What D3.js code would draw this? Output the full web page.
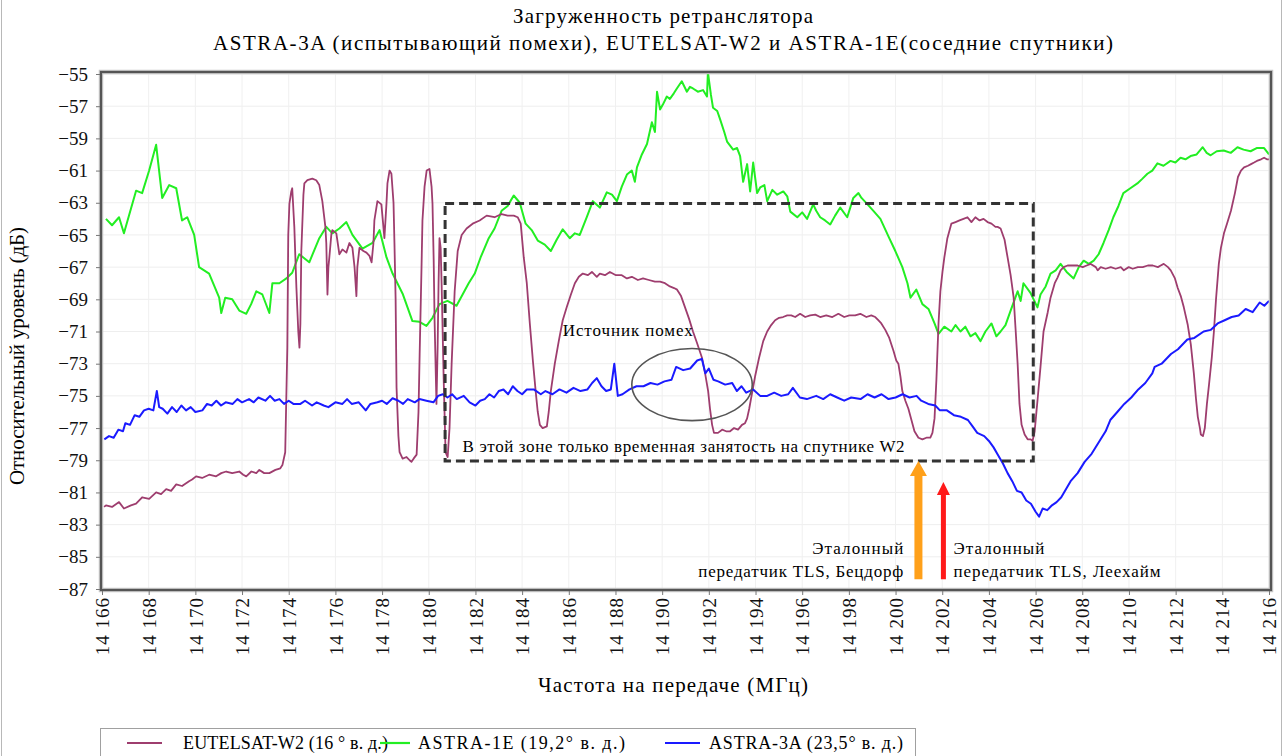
<!DOCTYPE html>
<html><head><meta charset="utf-8">
<script src="https://cdn.jsdelivr.net/npm/d3@7"></script>
<style>
body{margin:0;background:#fff}
svg{display:block}
</style>
</head><body>
<svg id="c" width="1284" height="756"></svg>
<script>
// ---------- data ----------
const titleLines = ["Загруженность ретранслятора",
  "ASTRA-3A (испытывающий помехи),  EUTELSAT-W2 и  ASTRA-1E(соседние спутники)"];
const xTitle = "Частота на передаче (МГц)";
const yTitle = "Относительный уровень (дБ)";
const xTicks = [14166,14168,14170,14172,14174,14176,14178,14180,14182,14184,14186,14188,14190,14192,14194,14196,14198,14200,14202,14204,14206,14208,14210,14212,14214,14216];
const yTicks = [-55,-57,-59,-61,-63,-65,-67,-69,-71,-73,-75,-77,-79,-81,-83,-85,-87];
const seriesNames = ["EUTELSAT-W2 (16 ° в. д.)","ASTRA-1E (19,2° в. д.)","ASTRA-3A (23,5° в. д.)"];
const seriesColors = ["#9e3d6e","#22ee22","#1a1aff"];

// EUTELSAT-W2 : [frequency MHz, level dB]
const w2 = [[14166.09,-81.9],[14166.17,-81.8],[14166.43,-81.9],[14166.73,-81.6],[14166.94,-82.0],[14167.24,-81.8],[14167.46,-81.7],[14167.72,-81.3],[14168.02,-81.4],[14168.32,-81.0],[14168.53,-81.1],[14168.75,-80.8],[14168.96,-80.9],[14169.18,-80.5],[14169.43,-80.6],[14169.73,-80.3],[14169.86,-80.2],[14170.03,-80.0],[14170.29,-80.1],[14170.59,-79.9],[14170.89,-80.0],[14171.11,-79.8],[14171.32,-79.7],[14171.58,-79.8],[14171.88,-79.7],[14172.05,-79.9],[14172.18,-80.0],[14172.40,-79.7],[14172.61,-79.8],[14172.74,-79.6],[14172.95,-79.8],[14173.17,-79.8],[14173.43,-79.6],[14173.64,-79.5],[14173.73,-79.3],[14173.85,-78.5],[14173.94,-72.0],[14173.98,-65.0],[14174.03,-63.05],[14174.11,-62.3],[14174.15,-62.1],[14174.24,-64.5],[14174.33,-68.3],[14174.41,-71.0],[14174.46,-72.0],[14174.50,-70.5],[14174.54,-66.0],[14174.63,-62.5],[14174.67,-61.8],[14174.80,-61.6],[14175.01,-61.5],[14175.18,-61.6],[14175.31,-61.9],[14175.44,-62.9],[14175.57,-64.5],[14175.61,-65.5],[14175.66,-68.7],[14175.70,-67.0],[14175.74,-66.4],[14175.83,-64.9],[14175.87,-64.7],[14176.04,-64.9],[14176.17,-66.2],[14176.30,-65.9],[14176.47,-66.1],[14176.60,-65.5],[14176.73,-65.8],[14176.82,-67.0],[14176.90,-68.8],[14176.94,-67.0],[14177.03,-65.8],[14177.20,-66.0],[14177.33,-66.1],[14177.46,-66.3],[14177.55,-66.7],[14177.63,-65.5],[14177.67,-64.1],[14177.80,-62.9],[14177.97,-63.1],[14178.10,-65.2],[14178.19,-63.0],[14178.23,-61.8],[14178.32,-61.0],[14178.40,-61.2],[14178.49,-63.0],[14178.53,-65.5],[14178.58,-69.0],[14178.62,-74.5],[14178.70,-77.5],[14178.75,-78.5],[14178.88,-78.9],[14179.05,-78.8],[14179.18,-79.0],[14179.26,-79.1],[14179.35,-78.9],[14179.48,-78.65],[14179.56,-76.0],[14179.61,-72.4],[14179.69,-67.0],[14179.73,-64.1],[14179.82,-62.0],[14179.91,-61.0],[14180.03,-60.9],[14180.12,-62.0],[14180.16,-63.05],[14180.21,-66.5],[14180.25,-70.35],[14180.33,-75.5],[14180.38,-72.0],[14180.42,-68.0],[14180.46,-65.2],[14180.51,-65.8],[14180.55,-68.0],[14180.64,-74.0],[14180.72,-78.5],[14180.81,-78.8],[14180.89,-77.0],[14180.98,-73.0],[14181.11,-68.5],[14181.24,-66.0],[14181.41,-65.0],[14181.62,-64.6],[14181.88,-64.3],[14182.18,-64.1],[14182.48,-63.8],[14182.82,-63.9],[14183.12,-63.7],[14183.38,-63.8],[14183.64,-63.8],[14183.81,-63.9],[14183.94,-64.3],[14184.07,-66.4],[14184.20,-68.0],[14184.33,-70.5],[14184.46,-72.8],[14184.58,-74.7],[14184.67,-76.0],[14184.76,-76.8],[14184.88,-77.0],[14185.06,-76.9],[14185.14,-76.0],[14185.23,-74.7],[14185.40,-73.0],[14185.57,-71.6],[14185.74,-70.3],[14185.91,-69.5],[14186.09,-68.7],[14186.26,-68.0],[14186.43,-67.6],[14186.60,-67.4],[14186.82,-67.5],[14186.99,-67.3],[14187.20,-67.6],[14187.33,-67.4],[14187.55,-67.5],[14187.76,-67.3],[14188.02,-67.5],[14188.27,-67.5],[14188.49,-67.7],[14188.70,-67.6],[14188.96,-67.8],[14189.18,-67.7],[14189.43,-67.8],[14189.69,-67.9],[14189.91,-67.9],[14190.12,-68.0],[14190.33,-68.2],[14190.51,-68.3],[14190.64,-68.4],[14190.81,-68.8],[14190.98,-69.5],[14191.15,-70.2],[14191.32,-71.0],[14191.49,-71.7],[14191.71,-72.65],[14191.84,-73.6],[14191.97,-74.7],[14192.05,-75.8],[14192.14,-76.8],[14192.22,-77.3],[14192.39,-77.3],[14192.57,-77.1],[14192.74,-77.2],[14192.91,-77.2],[14193.08,-77.0],[14193.25,-77.1],[14193.42,-76.8],[14193.55,-76.7],[14193.64,-76.4],[14193.73,-75.8],[14193.81,-75.15],[14193.98,-73.8],[14194.15,-72.65],[14194.33,-71.6],[14194.50,-71.0],[14194.67,-70.6],[14194.84,-70.3],[14195.01,-70.15],[14195.18,-70.1],[14195.36,-70.0],[14195.53,-70.0],[14195.70,-70.1],[14195.91,-69.9],[14196.13,-70.1],[14196.34,-70.0],[14196.56,-69.95],[14196.77,-70.1],[14197.03,-70.0],[14197.29,-70.1],[14197.55,-69.9],[14197.80,-70.1],[14198.02,-70.0],[14198.27,-70.0],[14198.49,-69.9],[14198.75,-70.1],[14198.96,-70.0],[14199.13,-70.1],[14199.26,-70.3],[14199.39,-70.5],[14199.56,-70.9],[14199.73,-71.4],[14199.91,-72.2],[14200.03,-72.8],[14200.12,-73.0],[14200.21,-73.8],[14200.29,-74.7],[14200.42,-75.3],[14200.55,-75.8],[14200.68,-76.5],[14200.81,-77.2],[14200.98,-77.6],[14201.15,-77.7],[14201.32,-77.6],[14201.49,-77.6],[14201.58,-77.3],[14201.67,-76.4],[14201.75,-74.0],[14201.84,-70.5],[14201.92,-68.5],[14202.01,-67.3],[14202.09,-66.4],[14202.22,-65.2],[14202.39,-64.3],[14202.57,-64.2],[14202.74,-64.1],[14202.91,-64.0],[14203.08,-63.9],[14203.25,-64.2],[14203.42,-63.9],[14203.60,-64.1],[14203.77,-64.0],[14203.94,-64.2],[14204.11,-64.3],[14204.28,-64.5],[14204.37,-64.5],[14204.50,-64.6],[14204.67,-65.3],[14204.80,-66.4],[14204.93,-67.5],[14205.06,-68.9],[14205.14,-70.8],[14205.23,-73.0],[14205.31,-75.5],[14205.40,-76.8],[14205.53,-77.4],[14205.66,-77.7],[14205.79,-77.7],[14205.87,-77.8],[14205.96,-77.2],[14206.09,-75.15],[14206.21,-73.2],[14206.34,-71.0],[14206.52,-69.8],[14206.64,-68.9],[14206.82,-68.0],[14206.94,-67.65],[14207.07,-67.2],[14207.20,-67.0],[14207.37,-66.9],[14207.59,-66.9],[14207.80,-66.9],[14208.02,-67.0],[14208.19,-66.9],[14208.36,-66.8],[14208.58,-67.0],[14208.66,-67.2],[14208.79,-67.0],[14209.00,-67.1],[14209.22,-67.0],[14209.43,-67.1],[14209.65,-67.0],[14209.78,-67.2],[14209.99,-67.0],[14210.16,-67.1],[14210.38,-67.0],[14210.59,-67.0],[14210.81,-66.9],[14211.02,-66.9],[14211.24,-67.0],[14211.36,-66.9],[14211.49,-66.8],[14211.67,-67.0],[14211.79,-67.2],[14211.97,-67.7],[14212.09,-68.3],[14212.22,-68.8],[14212.35,-69.5],[14212.52,-70.6],[14212.65,-71.8],[14212.78,-73.6],[14212.87,-75.15],[14212.95,-76.3],[14213.04,-77.0],[14213.08,-77.4],[14213.17,-77.5],[14213.25,-77.0],[14213.34,-75.5],[14213.43,-74.3],[14213.55,-72.6],[14213.64,-71.0],[14213.73,-69.0],[14213.85,-66.8],[14213.94,-65.8],[14214.07,-64.9],[14214.20,-64.3],[14214.37,-63.5],[14214.54,-62.4],[14214.67,-61.4],[14214.80,-61.0],[14214.93,-60.8],[14215.10,-60.7],[14215.23,-60.6],[14215.36,-60.5],[14215.48,-60.4],[14215.66,-60.3],[14215.79,-60.2],[14215.91,-60.3],[14216.0,-60.3]];

// ASTRA-1E : [frequency MHz, level dB]
const e1 = [[14166.17,-64.0],[14166.43,-64.4],[14166.73,-63.9],[14166.94,-64.9],[14167.46,-62.25],[14167.72,-62.4],[14168.02,-61.0],[14168.32,-59.4],[14168.58,-62.7],[14168.88,-61.9],[14169.18,-62.1],[14169.43,-64.1],[14169.65,-63.9],[14169.95,-65.0],[14170.16,-67.0],[14170.59,-67.4],[14171.02,-68.9],[14171.11,-69.85],[14171.28,-68.9],[14171.58,-69.0],[14171.88,-69.7],[14172.18,-69.9],[14172.39,-69.3],[14172.61,-68.5],[14172.87,-68.7],[14173.17,-69.85],[14173.30,-68.0],[14173.60,-68.0],[14173.90,-67.7],[14174.15,-67.35],[14174.45,-66.2],[14174.88,-66.7],[14175.31,-65.2],[14175.61,-64.5],[14175.87,-64.9],[14176.17,-64.6],[14176.47,-64.2],[14176.73,-65.0],[14177.16,-65.85],[14177.59,-65.5],[14177.89,-64.7],[14178.19,-66.4],[14178.45,-67.4],[14178.88,-68.65],[14179.30,-70.35],[14179.60,-70.4],[14179.90,-70.65],[14180.16,-70.15],[14180.46,-69.3],[14180.80,-69.1],[14181.19,-69.4],[14181.45,-68.7],[14181.71,-68.0],[14181.97,-67.4],[14182.22,-66.4],[14182.57,-65.2],[14182.82,-64.6],[14183.12,-63.5],[14183.38,-63.2],[14183.64,-62.55],[14183.90,-63.0],[14184.15,-64.3],[14184.41,-64.7],[14184.67,-65.35],[14184.97,-65.6],[14185.23,-66.0],[14185.48,-65.3],[14185.74,-64.65],[14186.04,-65.2],[14186.26,-64.9],[14186.47,-65.0],[14186.77,-63.9],[14187.03,-62.9],[14187.33,-63.3],[14187.63,-62.35],[14187.85,-62.5],[14188.06,-62.9],[14188.27,-62.0],[14188.49,-61.25],[14188.70,-61.0],[14188.83,-61.7],[14188.92,-60.8],[14189.13,-60.0],[14189.35,-59.35],[14189.56,-58.0],[14189.69,-58.6],[14189.78,-56.1],[14189.91,-57.2],[14190.03,-56.9],[14190.20,-56.4],[14190.33,-56.55],[14190.50,-56.2],[14190.63,-55.9],[14190.84,-55.45],[14191.06,-56.1],[14191.19,-55.8],[14191.32,-55.9],[14191.53,-56.1],[14191.75,-56.0],[14191.92,-56.4],[14191.96,-54.9],[14192.09,-56.3],[14192.18,-57.1],[14192.36,-57.3],[14192.48,-57.8],[14192.66,-58.6],[14192.78,-59.2],[14193.04,-59.7],[14193.21,-59.6],[14193.34,-60.1],[14193.47,-61.7],[14193.64,-60.6],[14193.77,-62.3],[14193.90,-60.5],[14194.07,-62.4],[14194.20,-62.05],[14194.38,-61.9],[14194.50,-62.9],[14194.72,-62.2],[14194.93,-62.5],[14195.19,-62.3],[14195.36,-62.6],[14195.49,-63.55],[14195.79,-63.9],[14196.00,-63.6],[14196.21,-64.0],[14196.47,-63.1],[14196.60,-63.5],[14196.77,-63.9],[14196.98,-64.1],[14197.20,-64.35],[14197.41,-63.8],[14197.63,-63.3],[14197.93,-63.9],[14198.19,-62.7],[14198.41,-62.4],[14198.54,-62.7],[14198.80,-63.1],[14199.05,-63.5],[14199.35,-64.0],[14199.73,-65.2],[14199.99,-66.0],[14200.29,-67.0],[14200.51,-68.0],[14200.64,-68.9],[14200.89,-68.4],[14201.15,-69.3],[14201.41,-69.6],[14201.67,-70.5],[14201.84,-71.15],[14202.09,-70.7],[14202.39,-71.0],[14202.57,-70.6],[14202.78,-71.0],[14202.99,-70.7],[14203.21,-71.3],[14203.42,-71.1],[14203.64,-71.6],[14203.85,-71.0],[14204.11,-70.5],[14204.32,-71.3],[14204.50,-71.0],[14204.71,-70.6],[14204.93,-69.7],[14205.23,-68.5],[14205.36,-69.1],[14205.48,-68.0],[14205.78,-68.6],[14206.08,-69.5],[14206.21,-68.7],[14206.43,-68.2],[14206.64,-67.4],[14206.86,-67.2],[14207.07,-66.8],[14207.33,-67.3],[14207.63,-67.7],[14207.85,-67.0],[14208.06,-66.6],[14208.28,-66.8],[14208.49,-66.6],[14208.70,-66.2],[14208.91,-65.5],[14209.13,-64.7],[14209.33,-63.9],[14209.55,-63.2],[14209.76,-62.4],[14210.06,-62.1],[14210.36,-61.8],[14210.58,-61.5],[14210.79,-61.2],[14211.00,-61.0],[14211.22,-60.55],[14211.48,-60.7],[14211.78,-60.4],[14211.99,-60.5],[14212.21,-60.2],[14212.42,-60.3],[14212.64,-60.1],[14212.90,-60.0],[14213.16,-59.55],[14213.33,-59.9],[14213.50,-60.05],[14213.76,-59.8],[14214.06,-59.75],[14214.36,-59.9],[14214.65,-59.55],[14214.91,-59.7],[14215.21,-59.8],[14215.47,-59.6],[14215.79,-59.6],[14216.0,-60.0]];

// ASTRA-3A : [frequency MHz, level dB]
const a3 = [[14166.1,-77.7],[14166.3,-77.5],[14166.5,-77.6],[14166.7,-77.1],[14166.9,-77.2],[14167.0,-76.7],[14167.2,-76.8],[14167.4,-76.2],[14167.6,-76.3],[14167.8,-75.9],[14168.0,-75.8],[14168.2,-75.9],[14168.35,-74.7],[14168.45,-75.7],[14168.6,-75.8],[14168.8,-76.1],[14169.0,-75.7],[14169.2,-76.0],[14169.4,-75.6],[14169.6,-75.9],[14169.8,-75.7],[14170.0,-76.0],[14170.3,-75.9],[14170.5,-75.5],[14170.7,-75.6],[14170.9,-75.3],[14171.1,-75.6],[14171.3,-75.4],[14171.6,-75.5],[14171.8,-75.2],[14172.0,-75.4],[14172.3,-75.2],[14172.5,-75.4],[14172.7,-75.1],[14173.0,-75.3],[14173.2,-75.0],[14173.4,-75.3],[14173.6,-75.2],[14173.8,-75.5],[14174.0,-75.3],[14174.2,-75.5],[14174.5,-75.5],[14174.7,-75.3],[14175.0,-75.6],[14175.2,-75.4],[14175.5,-75.6],[14175.7,-75.7],[14176.0,-75.4],[14176.3,-75.5],[14176.5,-75.2],[14176.7,-75.5],[14177.0,-75.4],[14177.3,-75.9],[14177.5,-75.5],[14177.8,-75.4],[14178.0,-75.3],[14178.2,-75.5],[14178.45,-75.15],[14178.7,-75.3],[14178.9,-75.5],[14179.1,-75.2],[14179.4,-75.4],[14179.6,-75.2],[14179.9,-75.3],[14180.2,-75.4],[14180.4,-75.0],[14180.6,-74.9],[14180.8,-75.1],[14181.0,-74.9],[14181.2,-75.2],[14181.5,-75.0],[14181.75,-75.4],[14182.0,-75.6],[14182.2,-75.3],[14182.4,-75.2],[14182.6,-74.9],[14182.8,-75.1],[14183.0,-74.7],[14183.2,-74.6],[14183.4,-74.9],[14183.6,-74.4],[14183.8,-74.7],[14184.0,-74.9],[14184.2,-74.6],[14184.5,-74.6],[14184.8,-74.9],[14185.0,-74.7],[14185.3,-74.9],[14185.6,-74.6],[14185.9,-74.8],[14186.2,-74.5],[14186.5,-74.7],[14186.8,-74.6],[14187.0,-74.2],[14187.2,-73.9],[14187.4,-74.4],[14187.6,-74.7],[14187.8,-74.6],[14187.95,-73.0],[14188.1,-75.0],[14188.3,-74.9],[14188.6,-74.6],[14188.9,-74.4],[14189.2,-74.4],[14189.5,-74.2],[14189.8,-74.3],[14190.1,-74.1],[14190.4,-74.0],[14190.6,-73.2],[14190.9,-73.4],[14191.2,-73.3],[14191.5,-72.8],[14191.7,-72.7],[14191.85,-73.6],[14192.0,-73.3],[14192.2,-74.0],[14192.4,-74.1],[14192.7,-74.3],[14193.0,-74.2],[14193.2,-74.7],[14193.4,-74.4],[14193.6,-74.8],[14193.9,-74.6],[14194.2,-75.0],[14194.5,-75.0],[14194.8,-74.8],[14195.1,-75.0],[14195.4,-74.9],[14195.6,-74.5],[14195.9,-75.1],[14196.2,-75.2],[14196.6,-75.0],[14196.9,-75.2],[14197.2,-74.9],[14197.5,-75.1],[14197.8,-75.3],[14198.1,-75.1],[14198.5,-75.2],[14198.8,-74.9],[14199.1,-75.1],[14199.4,-74.9],[14199.7,-75.2],[14200.0,-75.1],[14200.3,-74.9],[14200.6,-75.1],[14200.9,-75.0],[14201.1,-75.3],[14201.4,-75.5],[14201.7,-75.6],[14201.9,-75.9],[14202.2,-75.9],[14202.5,-76.2],[14202.8,-76.3],[14203.1,-76.5],[14203.3,-76.9],[14203.5,-77.3],[14203.8,-77.5],[14204.0,-77.8],[14204.2,-78.2],[14204.4,-78.7],[14204.6,-79.2],[14204.8,-79.8],[14205.0,-80.3],[14205.2,-80.9],[14205.4,-81.0],[14205.6,-81.5],[14205.8,-81.7],[14206.0,-82.2],[14206.15,-82.5],[14206.3,-82.0],[14206.5,-82.1],[14206.7,-81.8],[14206.9,-81.6],[14207.1,-81.3],[14207.3,-80.8],[14207.5,-80.3],[14207.8,-79.8],[14208.1,-79.1],[14208.4,-78.6],[14208.7,-77.9],[14209.0,-77.2],[14209.2,-76.5],[14209.5,-76.0],[14209.8,-75.5],[14210.1,-75.1],[14210.4,-74.6],[14210.7,-74.2],[14211.0,-73.6],[14211.1,-73.2],[14211.4,-73.0],[14211.8,-72.4],[14212.1,-72.1],[14212.5,-71.5],[14212.8,-71.4],[14213.2,-71.0],[14213.5,-70.9],[14213.8,-70.5],[14214.1,-70.3],[14214.4,-70.1],[14214.7,-70.0],[14215.0,-69.6],[14215.3,-69.8],[14215.6,-69.2],[14215.8,-69.4],[14216.0,-69.1]];

const seriesData = [w2, e1, a3];

// annotations (in data units)
const zoneBox = {f0:14180.7, f1:14205.9, v0:-63.05, v1:-79.05};
const sourceEllipse = {f:14191.28, v:-74.3, rf:2.58, rv:2.24};
const zoneLabel = "В этой зоне только временная занятость на спутнике W2";
const sourceLabel = "Источник помех";
const refLeft = ["Эталонный","передатчик TLS, Бецдорф"];
const refRight = ["Эталонный","передатчик TLS, Леехайм"];

// ---------- drawing ----------
const FONT = "'Liberation Serif'";
const svg = d3.select("#c");
const x = d3.scaleLinear().domain([14166,14216]).range([102,1269]);
const y = d3.scaleLinear().domain([-87,-55]).range([589,74]);

// outer borders
svg.append("line").attr("x1",1.5).attr("x2",1.5).attr("y1",0).attr("y2",756).attr("stroke","#b8b8b8");
svg.append("line").attr("x1",1281.5).attr("x2",1281.5).attr("y1",0).attr("y2",756).attr("stroke","#b8b8b8");

// title
const titleLen = [300, 900];
svg.selectAll("text.title").data(titleLines).join("text")
  .attr("class","title").attr("x",663).attr("y",(d,i)=>23+i*27)
  .attr("text-anchor","middle").style("font-size","21px")
  .attr("textLength",(d,i)=>titleLen[i]).attr("lengthAdjust","spacing").text(d=>d);

// gridlines
const grid = svg.append("g");
grid.selectAll("line.gy").data(yTicks).join("line")
  .attr("x1",x(14166)).attr("x2",x(14216)).attr("y1",d=>y(d)).attr("y2",d=>y(d))
  .attr("stroke","#eeeeee").attr("stroke-width",1);
grid.selectAll("line.gx").data(xTicks).join("line")
  .attr("y1",y(-55)).attr("y2",y(-87)).attr("x1",d=>x(d)).attr("x2",d=>x(d))
  .attr("stroke","#f0f0f0").attr("stroke-width",1);

// series lines
const line = d3.line().x(d=>x(d[0])).y(d=>y(d[1]));
const order = [1,0,2];
svg.append("g").selectAll("path").data(order).join("path")
  .attr("d",i=>line(seriesData[i])).attr("fill","none")
  .attr("stroke",i=>seriesColors[i]).attr("stroke-width",i=>i===0?1.8:2)
  .attr("stroke-linejoin","round");

// frame
svg.append("rect").attr("x",x(14166)-1).attr("y",y(-55)-2)
  .attr("width",x(14216)-x(14166)+3).attr("height",y(-87)-y(-55)+3)
  .attr("fill","none").attr("stroke","#c8c8c8").attr("stroke-width",4.5);
svg.append("rect").attr("x",x(14166)-1).attr("y",y(-55)-2)
  .attr("width",x(14216)-x(14166)+3).attr("height",y(-87)-y(-55)+3)
  .attr("fill","none").attr("stroke","#555").attr("stroke-width",2.2);

// axes
const yAxis = svg.append("g").attr("transform",`translate(${x(14166)-2},0)`)
  .call(d3.axisLeft(y).tickValues(yTicks).tickSize(4).tickPadding(8).tickFormat(d3.format("d")));
yAxis.select(".domain").remove();
yAxis.selectAll("line").attr("stroke","#777");
yAxis.selectAll("text").style("font-size","19px").attr("fill","#111");

const loc = d3.formatLocale({decimal:",",thousands:" ",grouping:[3],currency:["",""],minus:"\u2212"});
const xAxis = svg.append("g").attr("transform",`translate(0,${y(-87)+2})`)
  .call(d3.axisBottom(x).tickValues(xTicks).tickSize(4).tickFormat(loc.format(",d")));
xAxis.select(".domain").remove();
xAxis.selectAll("line").attr("stroke","#777");
xAxis.selectAll("text").attr("transform","rotate(-90)").attr("text-anchor","end")
  .attr("x",-6).attr("y",0).attr("dy","0.35em")
  .style("font-size","19px").style("letter-spacing","1px").attr("fill","#111");

// axis titles
svg.append("text").attr("x",673).attr("y",692).attr("text-anchor","middle")
  .style("font-size","21px").attr("textLength",270).attr("lengthAdjust","spacing").text(xTitle);
svg.append("text").attr("transform",`translate(24,356) rotate(-90)`).attr("text-anchor","middle")
  .style("font-size","21px").attr("textLength",258).attr("lengthAdjust","spacing").text(yTitle);

// zone box
const ann = svg.append("g");
ann.append("rect").attr("x",x(zoneBox.f0)).attr("y",y(zoneBox.v0))
  .attr("width",x(zoneBox.f1)-x(zoneBox.f0)).attr("height",y(zoneBox.v1)-y(zoneBox.v0))
  .attr("fill","none").attr("stroke","#333").attr("stroke-width",3).attr("stroke-dasharray","9,5");
ann.append("ellipse").attr("cx",x(sourceEllipse.f)).attr("cy",y(sourceEllipse.v))
  .attr("rx",x(sourceEllipse.f+sourceEllipse.rf)-x(sourceEllipse.f))
  .attr("ry",y(sourceEllipse.v-sourceEllipse.rv)-y(sourceEllipse.v))
  .attr("fill","none").attr("stroke","#555").attr("stroke-width",1.6);
ann.append("text").attr("x",x(14185.74)).attr("y",y(-71.25)).style("font-size","17px")
  .attr("textLength",130).attr("lengthAdjust","spacing").text(sourceLabel);
ann.append("text").attr("x",x(14181.45)).attr("y",y(-78.5)).style("font-size","17px")
  .attr("textLength",442).attr("lengthAdjust","spacing").text(zoneLabel);

// arrows
function arrow(f, vTop, vBot, color, shaft, headW, headL){
  const cx = x(f), yt = y(vTop), yb = y(vBot);
  const p = [[cx-shaft/2,yb],[cx-shaft/2,yt+headL],[cx-headW/2,yt+headL],[cx,yt],
             [cx+headW/2,yt+headL],[cx+shaft/2,yt+headL],[cx+shaft/2,yb]];
  ann.append("path").attr("d",d3.line()(p)+"Z").attr("fill",color);
}
arrow(14200.98,-79.05,-86.4,"#ffa01a",8,17,15);
arrow(14202.05,-80.35,-86.4,"#ff1a1a",5,13,13);

const refLen = [91, 205];
ann.selectAll("text.rl").data(refLeft).join("text").attr("class","rl")
  .attr("x",x(14200.33)).attr("y",(d,i)=>y(-84.85)+i*23).attr("text-anchor","end")
  .style("font-size","17px").attr("textLength",(d,i)=>refLen[i]).attr("lengthAdjust","spacing").text(d=>d);
ann.selectAll("text.rr").data(refRight).join("text").attr("class","rr")
  .attr("x",x(14202.48)).attr("y",(d,i)=>y(-84.85)+i*23)
  .style("font-size","17px").attr("textLength",(d,i)=>i?207:91).attr("lengthAdjust","spacing").text(d=>d);

// legend
const lg = svg.append("g");
lg.append("rect").attr("x",100.5).attr("y",728.5).attr("width",815).attr("height",40)
  .attr("fill","#fff").attr("stroke","#a0a0a0");
const legX = [[127,162,183,205],[380,410,418,207],[665,700,709,194]];
const items = lg.selectAll("g").data(seriesNames).join("g");
items.append("line").attr("x1",(d,i)=>legX[i][0]).attr("x2",(d,i)=>legX[i][1])
  .attr("y1",743).attr("y2",743).attr("stroke",(d,i)=>seriesColors[i]).attr("stroke-width",2.2);
items.append("text").attr("x",(d,i)=>legX[i][2]).attr("y",749).style("font-size","18px")
  .attr("textLength",(d,i)=>legX[i][3]).attr("lengthAdjust","spacing").text(d=>d);

// font for every text
svg.selectAll("text").style("font-family",FONT);
</script>
</body></html>
